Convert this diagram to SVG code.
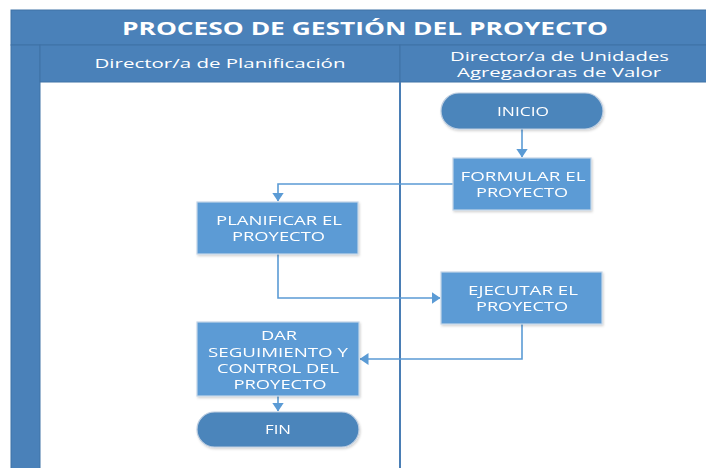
<svg xmlns="http://www.w3.org/2000/svg" width="706" height="468" viewBox="0 0 706 468">
<defs>
<style>
.band{fill:#4a81b9;stroke:#3f72a6;stroke-width:1}
.hdr{font-family:"Open Sans","Liberation Sans",sans-serif;fill:#fff;text-anchor:middle}
.box{fill:#5b9bd5;stroke:#c3d5e8;stroke-width:1.2}
.pill{fill:#4c85bb;stroke:#bccde0;stroke-width:1.2}
.lbl{font-family:"Open Sans","Liberation Sans",sans-serif;font-size:12.5px;fill:#fff;text-anchor:middle}
.con{fill:none;stroke:#5b9bd5;stroke-width:1.6}
</style>
<marker id="ah" viewBox="0 0 9 12" refX="8.5" refY="6" markerWidth="9" markerHeight="12" markerUnits="userSpaceOnUse" orient="auto">
<path d="M0,0 L9,6 L0,12 z" fill="#5b9bd5"/>
</marker>
<filter id="sh" x="-10%" y="-10%" width="125%" height="130%">
<feDropShadow dx="1" dy="1.5" stdDeviation="1.2" flood-color="#000" flood-opacity="0.18"/>
</filter>
</defs>
<rect x="0" y="0" width="706" height="468" fill="#fff"/>
<g id="pool">
<rect class="band" x="11" y="10" width="700" height="35"/>
<text class="hdr" x="365" y="35" font-size="18" font-weight="bold" textLength="486" lengthAdjust="spacingAndGlyphs">PROCESO DE GESTIÓN DEL PROYECTO</text>
<rect class="band" x="11" y="45" width="29" height="430"/>
</g>
<g id="lane1">
<rect class="band" x="40" y="45" width="360" height="37"/>
<text class="hdr" x="220" y="68" font-size="13.5" textLength="251" lengthAdjust="spacingAndGlyphs">Director/a de Planificación</text>
</g>
<g id="lane2">
<rect class="band" x="400" y="45" width="311" height="37"/>
<text class="hdr" x="559.5" y="60.5" font-size="13.5" textLength="219" lengthAdjust="spacingAndGlyphs">Director/a de Unidades</text>
<text class="hdr" x="559" y="77" font-size="13.5" textLength="204" lengthAdjust="spacingAndGlyphs">Agregadoras de Valor</text>
<line x1="400" y1="82" x2="400" y2="468" stroke="#4a7eb5" stroke-width="2"/>
</g>
<g id="connectors">
<line class="con" x1="522" y1="129" x2="522" y2="157" marker-end="url(#ah)"/>
<polyline class="con" points="453,184 278,184 278,201" marker-end="url(#ah)"/>
<polyline class="con" points="278,254 278,298 440,298" marker-end="url(#ah)"/>
<polyline class="con" points="522,324 522,359 360,359" marker-end="url(#ah)"/>
<line class="con" x1="278" y1="396" x2="278" y2="411" marker-end="url(#ah)"/>
</g>
<g id="inicio" filter="url(#sh)">
<rect class="pill" x="441" y="93" width="162" height="36" rx="18"/>
<text class="lbl" x="523" y="116" textLength="52" lengthAdjust="spacingAndGlyphs">INICIO</text>
</g>
<g id="formular" filter="url(#sh)">
<rect class="box" x="453" y="158" width="138" height="52"/>
<text class="lbl" x="523" y="181" textLength="125" lengthAdjust="spacingAndGlyphs">FORMULAR EL</text>
<text class="lbl" x="522" y="197" textLength="92" lengthAdjust="spacingAndGlyphs">PROYECTO</text>
</g>
<g id="planificar" filter="url(#sh)">
<rect class="box" x="197" y="202" width="161" height="52"/>
<text class="lbl" x="279" y="224.5" textLength="126" lengthAdjust="spacingAndGlyphs">PLANIFICAR EL</text>
<text class="lbl" x="278.5" y="241" textLength="93" lengthAdjust="spacingAndGlyphs">PROYECTO</text>
</g>
<g id="ejecutar" filter="url(#sh)">
<rect class="box" x="441" y="272" width="161" height="52"/>
<text class="lbl" x="523" y="295" textLength="110" lengthAdjust="spacingAndGlyphs">EJECUTAR EL</text>
<text class="lbl" x="522" y="311" textLength="92" lengthAdjust="spacingAndGlyphs">PROYECTO</text>
</g>
<g id="seguimiento" filter="url(#sh)">
<rect class="box" x="197" y="322" width="162" height="74"/>
<text class="lbl" x="279" y="340" textLength="36" lengthAdjust="spacingAndGlyphs">DAR</text>
<text class="lbl" x="278" y="356.5" textLength="140" lengthAdjust="spacingAndGlyphs">SEGUIMIENTO Y</text>
<text class="lbl" x="278" y="372.5" textLength="122" lengthAdjust="spacingAndGlyphs">CONTROL DEL</text>
<text class="lbl" x="280" y="388.5" textLength="93" lengthAdjust="spacingAndGlyphs">PROYECTO</text>
</g>
<g id="fin" filter="url(#sh)">
<rect class="pill" x="197" y="412" width="162" height="35" rx="17.5"/>
<text class="lbl" x="278" y="434" textLength="26" lengthAdjust="spacingAndGlyphs">FIN</text>
</g>
</svg>
